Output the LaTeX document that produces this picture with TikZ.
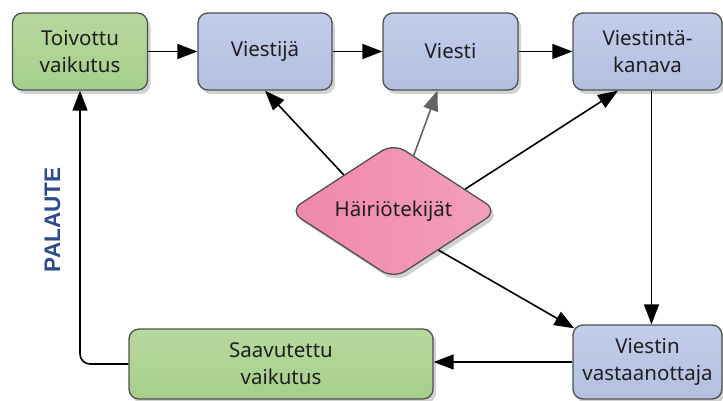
\documentclass[tikz,border=0pt]{standalone}
\usepackage{fontspec}
\setmainfont{Noto Sans}
\newfontfamily\labelfont{Liberation Sans}
\usetikzlibrary{shapes.geometric,shadows,arrows.meta,calc}

\definecolor{boxgreen}{HTML}{A6CF8A}
\definecolor{boxgreenhi}{HTML}{B6D99E}
\definecolor{boxblue}{HTML}{B4BFE0}
\definecolor{boxbluehi}{HTML}{C3CCE9}
\definecolor{pinkleft}{HTML}{F087AC}
\definecolor{pinkright}{HTML}{F29FBD}
\definecolor{edgegray}{HTML}{505050}
\definecolor{feedblue}{HTML}{2E4A8C}
\definecolor{softarrow}{HTML}{636363}

\begin{document}
\begin{tikzpicture}[x=1pt,y=-1pt,
  card/.style={draw=edgegray, line width=1.3pt, rounded corners=10pt,
    inner sep=0pt, align=center, text=black!88,
    font=\fontsize{20.5}{27}\selectfont,
    drop shadow={shadow xshift=3pt, shadow yshift=-4pt, fill=black, opacity=0.18}},
  goal/.style={card, top color=boxgreenhi, bottom color=boxgreen},
  stage/.style={card, top color=boxbluehi, bottom color=boxblue},
  noise/.style={diamond, draw=edgegray, line width=1.3pt, rounded corners=14pt,
    aspect=1.54, inner sep=0pt, text=black!88,
    font=\fontsize{20.5}{27}\selectfont,
    left color=pinkleft, right color=pinkright,
    drop shadow={shadow xshift=3pt, shadow yshift=-4pt, fill=black, opacity=0.18}},
  arr/.style={line width=1.6pt, -{Triangle[length=20pt,width=15pt]}},
]
\useasboundingbox (0,0) rectangle (723,401);

% top row
\node[goal,  minimum width=135pt, minimum height=77pt] (t1) at (80,51.5)    {Toivottu\\vaikutus};
\node[stage, minimum width=134pt, minimum height=77pt] (v1) at (265,51.5)   {Viestijä};
\node[stage, minimum width=135pt, minimum height=77pt] (v2) at (450.5,51.5) {Viesti};
\node[stage, minimum width=149pt, minimum height=77pt] (v3) at (647.5,51.5) {Viestintä-\\kanava};

% disturbances
\node[noise, minimum width=209pt, minimum height=136pt] (dia) at (393.5,211) {Häiriötekijät};

% bottom row
\node[stage, minimum width=149pt, minimum height=74pt] (v5) at (647.5,362) {Viestin\\vastaanottaja};
\node[goal,  minimum width=304pt, minimum height=70pt] (s)  at (281,364)   {Saavutettu\\vaikutus};

% feedback label
\node[rotate=90, text=feedblue, font=\labelfont\bfseries\fontsize{22.5}{27}\selectfont] (fb) at (52.5,220) {PALAUTE};

% main chain
\draw[arr] (t1) -- (v1);
\draw[arr] (v1) -- (v2);
\draw[arr] (v2) -- (v3);
\draw[arr] ([xshift=4pt]v3.south) -- ([xshift=4pt]v5.north);
\draw[arr] (v5.west) -- (s.east |- v5.west);
\draw[arr, rounded corners=10pt] (s.west) -- (s.west -| t1.south) -- (t1.south);

% disturbances acting on the chain
\draw[arr] (dia.144) -- (v1.south);
\draw[arr, draw=softarrow, fill=softarrow] (dia.70) -- ([xshift=-13pt]v2.south);
\draw[arr] (dia.17) -- ([xshift=-29.5pt]v3.south);
\draw[arr] (dia.-41) -- ([xshift=2pt,yshift=-4pt]v5.north west);
\end{tikzpicture}
\end{document}
